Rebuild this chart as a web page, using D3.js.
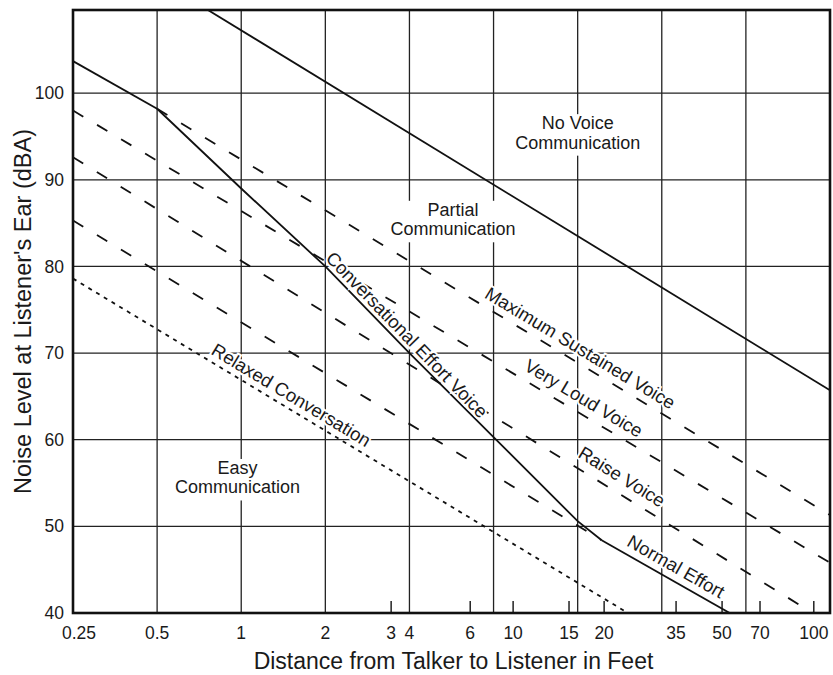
<!DOCTYPE html>
<html>
<head>
<meta charset="utf-8">
<script src="https://cdn.jsdelivr.net/npm/d3@7"></script>
<style>
	body { margin: 0; background: #fff; }
	text { font-family: "Liberation Sans", Arial, sans-serif; fill: #1a1a1a; }
</style>
</head>
<body>
<svg width="833" height="675"></svg>
<script>
//Axis ticks and grid (feet, dBA)
var gridX = [0.5, 1, 2, 4, 8, 16, 32, 64];
var gridY = [50, 60, 70, 80, 90, 100];
var yTickLabels = [40, 50, 60, 70, 80, 90, 100];
var xLabelAt = [0.25, 0.5, 1, 2, 3.44, 4, 6.6, 9.4, 14.9, 19.9, 36, 52.6, 71.9, 112]; //where the labels sit on the picture
var xLabels = ["0.25", "0.5", "1", "2", "3", "4", "6", "10", "15", "20", "35", "50", "70", "100"];
var xShortTicks = [3.44, 6.6, 9.4, 14.9, 19.9, 36, 52.6, 71.9, 112];

//Voice effort lines, [distance ft, noise dBA]
var noVoiceLimit = [[0.76, 109.6], [128, 65.7]];
var maxSustainedSolid = [[0.25, 103.7], [0.5, 98.2]];
var maxSustainedVoice = [[0.5, 98.2], [128, 51.3]];
var veryLoudVoice = [[0.25, 98.0], [128, 45.8]];
var raiseVoice = [[0.25, 92.6], [111, 40]];
var normalEffortDashed = [[0.25, 85.3], [19.5, 48.4]];
var conversationalEffort = [[0.5, 98.2], [1, 89], [2, 80], [4, 70], [8, 60.3], [16, 50.6], [19.5, 48.4]];
var normalEffort = [[19.5, 48.4], [56, 40]];
var relaxedConversation = [[0.25, 78.6], [24.2, 40]];

//Line labels: text, line, distance of label centre, offset above line
var lineLabels = [
	{ text: "Conversational Effort Voice", line: conversationalEffort, at: 3.67, off: 11 },
	{ text: "Relaxed Conversation", line: relaxedConversation, at: 1.43, off: 13 },
	{ text: "Maximum Sustained Voice", line: maxSustainedVoice, at: 15.4, off: 14 },
	{ text: "Very Loud Voice", line: veryLoudVoice, at: 15.8, off: 15 },
	{ text: "Raise Voice", line: raiseVoice, at: 21.5, off: 16 },
	{ text: "Normal Effort", line: normalEffort, at: 34, off: 14 }
];

//Zone labels: lines of text, distance, dBA of centre
var zoneLabels = [
	{ lines: ["No Voice", "Communication"], x: 16, y: 95.5 },
	{ lines: ["Partial", "Communication"], x: 5.73, y: 85.5 },
	{ lines: ["Easy", "Communication"], x: 0.97, y: 55.7 }
];

var plotLeft = 73, plotRight = 830, plotTop = 10, plotBottom = 613;

var x = d3.scaleLog().domain([0.25, 128]).range([plotLeft, plotRight]);
var y = d3.scaleLinear().domain([40, 109.6]).range([plotBottom, plotTop]);

var svg = d3.select("svg");

svg.append("clipPath").attr("id", "plotClip")
	.append("rect")
	.attr("x", plotLeft).attr("y", plotTop)
	.attr("width", plotRight - plotLeft).attr("height", plotBottom - plotTop);

//Grid
svg.append("g").selectAll("line")
	.data(gridX).enter().append("line")
	.attr("x1", function (d) { return x(d); }).attr("x2", function (d) { return x(d); })
	.attr("y1", plotTop).attr("y2", plotBottom)
	.style("stroke", "#222").style("stroke-width", "1.3px");

svg.append("g").selectAll("line")
	.data(gridY).enter().append("line")
	.attr("x1", plotLeft).attr("x2", plotRight)
	.attr("y1", function (d) { return y(d); }).attr("y2", function (d) { return y(d); })
	.style("stroke", "#222").style("stroke-width", "1.3px");

//Short ticks along the bottom
svg.append("g").selectAll("line")
	.data(xShortTicks).enter().append("line")
	.attr("x1", function (d) { return x(d); }).attr("x2", function (d) { return x(d); })
	.attr("y1", plotBottom).attr("y2", plotBottom - 12)
	.style("stroke", "#222").style("stroke-width", "1.5px");

//Zone labels with white boxes hiding the grid
var zoneG = svg.append("g").selectAll("g")
	.data(zoneLabels).enter().append("g")
	.attr("transform", function (d) { return "translate(" + x(d.x) + "," + y(d.y) + ")"; });

zoneG.each(function (d) {
	var g = d3.select(this);
	var bg = g.append("rect").style("fill", "#fff");
	var t = g.append("text")
		.style("text-anchor", "middle")
		.style("font-size", "18px");
	t.selectAll("tspan").data(d.lines).enter().append("tspan")
		.attr("x", 0)
		.attr("y", function (s, i) { return i * 19.5 - 3; })
		.text(function (s) { return s; });
	var b = t.node().getBBox();
	bg.attr("x", b.x - 3).attr("y", b.y + 1).attr("width", b.width + 6).attr("height", b.height + 2);
});

//Lines
var lineGen = d3.line()
	.x(function (d) { return x(d[0]); })
	.y(function (d) { return y(d[1]); });

var plotG = svg.append("g").attr("clip-path", "url(#plotClip)");

function drawLine(data, dash) {
	plotG.append("path")
		.attr("d", lineGen(data))
		.style("fill", "none")
		.style("stroke", "#111")
		.style("stroke-width", "1.8px")
		.style("stroke-dasharray", dash);
}

drawLine(noVoiceLimit, null);
drawLine(maxSustainedSolid, null);
drawLine(conversationalEffort, null);
drawLine(normalEffort, null);
drawLine(maxSustainedVoice, "12,16");
drawLine(veryLoudVoice, "12,16");
drawLine(raiseVoice, "12,16");
drawLine(normalEffortDashed, "12,16");
drawLine(relaxedConversation, "4,5");

//Line labels, rotated to follow their line
function pointOn(line, d) {
	for (var i = 0; i < line.length - 1; i++) {
		var a = line[i], b = line[i + 1];
		if (d >= a[0] && d <= b[0]) {
			var t = (Math.log(d) - Math.log(a[0])) / (Math.log(b[0]) - Math.log(a[0]));
			var px = x(d), py = y(a[1] + t * (b[1] - a[1]));
			var ang = Math.atan2(y(b[1]) - y(a[1]), x(b[0]) - x(a[0])) * 180 / Math.PI;
			return [px, py, ang];
		}
	}
}

svg.append("g").selectAll("text")
	.data(lineLabels).enter().append("text")
	.attr("transform", function (d) {
		var p = pointOn(d.line, d.at);
		return "translate(" + p[0] + "," + p[1] + ") rotate(" + p[2] + ")";
	})
	.attr("y", function (d) { return -d.off; })
	.attr("dy", "0.35em")
	.style("text-anchor", "middle")
	.style("font-size", "18.5px")
	.style("paint-order", "stroke")
	.style("stroke", "#fff")
	.style("stroke-width", "4px")
	.text(function (d) { return d.text; });

//Frame
svg.append("rect")
	.attr("x", plotLeft).attr("y", plotTop)
	.attr("width", plotRight - plotLeft).attr("height", plotBottom - plotTop)
	.style("fill", "none").style("stroke", "#111").style("stroke-width", "2.6px");

//Tick labels
svg.append("g").selectAll("text")
	.data(yTickLabels).enter().append("text")
	.attr("x", plotLeft - 9)
	.attr("y", function (d) { return y(d); })
	.attr("dy", "0.35em")
	.style("text-anchor", "end")
	.style("font-size", "17.5px")
	.text(function (d) { return d; });

svg.append("g").selectAll("text")
	.data(xLabelAt).enter().append("text")
	.attr("x", function (d, i) { return x(d) + (i === 0 ? 6 : 0); })
	.attr("y", 639)
	.style("text-anchor", "middle")
	.style("font-size", "17.5px")
	.text(function (d, i) { return xLabels[i]; });

//Axis titles
svg.append("text")
	.attr("x", (plotLeft + plotRight) / 2 + 2)
	.attr("y", 669)
	.style("text-anchor", "middle")
	.style("font-size", "23px")
	.text("Distance from Talker to Listener in Feet");

svg.append("text")
	.attr("transform", "translate(31," + ((plotTop + plotBottom) / 2) + ") rotate(-90)")
	.style("text-anchor", "middle")
	.style("font-size", "23.5px")
	.text("Noise Level at Listener's Ear (dBA)");
</script>
</body>
</html>
